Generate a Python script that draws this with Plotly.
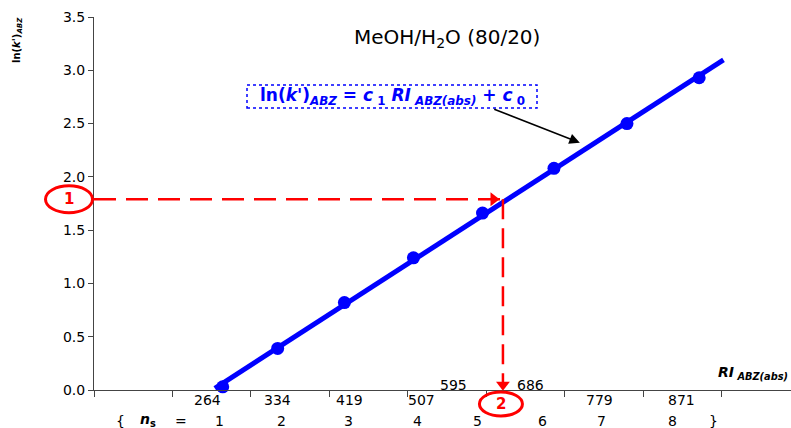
import numpy as np
import plotly.graph_objects as go

# ---- data ----
ri_values = [264, 334, 419, 507, 595, 686, 779, 871]
lnk_values = [0.03, 0.39, 0.82, 1.24, 1.66, 2.08, 2.50, 2.93]
ns_values = [1, 2, 3, 4, 5, 6, 7, 8]
ri_labels = ["264", "334", "419", "507", "595", "686", "779", "871"]
target_lnk = 1.79   # read-off value (1)
target_ri = 621     # resulting RI (2)
y_tickvals = [0.0, 0.5, 1.0, 1.5, 2.0, 2.5, 3.0, 3.5]

# ---- style / geometry ----
X0, X1 = 100, 988
Y0, Y1 = 0.0, 3.5
ML, MR, MT, MB = 94, 0, 17, 38
W, H = 791, 428
PW, PH = W - ML - MR, H - MT - MB
BLUE = "#0000FF"
RED = "#FF0000"
FONT = "DejaVu Sans"

ri_label_dx = [-15, 0, 5, 8, -29, -23, -27, -18]
ri_label_dy = [-10, -10, -10, -10, 5, 5, -10, -10]
ns_label_dx = [-3, 4, 4, 4, -5, -11, -25, -27]


def xp(v):
    return (v - X0) / (X1 - X0)


def yp(v):
    return (v - Y0) / (Y1 - Y0)


def px_x(p):
    return (p - ML) / PW


def px_y(p):
    return (H - MB - p) / PH


fig = go.Figure()

# regression line
c1, c0 = np.polyfit(ri_values, lnk_values, 1)
fit_x = np.array([min(ri_values) - 10, max(ri_values) + 31])
fig.add_trace(go.Scatter(x=fit_x, y=c1 * fit_x + c0, mode="lines",
                         line=dict(color=BLUE, width=5), cliponaxis=False,
                         hoverinfo="skip", showlegend=False))
fig.add_trace(go.Scatter(x=ri_values, y=lnk_values, mode="markers",
                         marker=dict(color=BLUE, size=13), cliponaxis=False,
                         showlegend=False))

# dashed read-off lines
fig.add_trace(go.Scatter(x=[X0, target_ri], y=[target_lnk, target_lnk], mode="lines",
                         line=dict(color=RED, width=2.5, dash="22px,10px"),
                         cliponaxis=False, showlegend=False, hoverinfo="skip"))
fig.add_trace(go.Scatter(x=[target_ri, target_ri], y=[target_lnk, 0.06], mode="lines",
                         line=dict(color=RED, width=2.5, dash="20px,9px"),
                         cliponaxis=False, showlegend=False, hoverinfo="skip"))
fig.add_trace(go.Scatter(x=[target_ri - 12], y=[target_lnk], mode="markers",
                         marker=dict(symbol="triangle-right", color=RED, size=12),
                         cliponaxis=False, showlegend=False, hoverinfo="skip"))
fig.add_trace(go.Scatter(x=[target_ri], y=[0.05], mode="markers",
                         marker=dict(symbol="triangle-down", color=RED, size=12),
                         cliponaxis=False, showlegend=False, hoverinfo="skip"))

shapes = []
annotations = []


def ann(**kw):
    kw.setdefault("showarrow", False)
    kw.setdefault("xanchor", "center")
    kw.setdefault("yanchor", "middle")
    annotations.append(kw)


# circle 1
cx1, cy1 = -25 / PW, yp(target_lnk)
shapes.append(dict(type="circle", xref="paper", yref="paper",
                   x0=cx1 - 23.5 / PW, x1=cx1 + 23.5 / PW,
                   y0=cy1 - 13.5 / PH, y1=cy1 + 13.5 / PH,
                   line=dict(color=RED, width=3)))
ann(xref="paper", yref="paper", x=cx1, y=cy1, text="<b>1</b>",
    font=dict(family=FONT, size=15, color=RED))
# circle 2
cx2, cy2 = xp(target_ri) - 2 / PW, -14 / PH
shapes.append(dict(type="circle", xref="paper", yref="paper",
                   x0=cx2 - 21.5 / PW, x1=cx2 + 21.5 / PW,
                   y0=cy2 - 12 / PH, y1=cy2 + 12 / PH,
                   line=dict(color=RED, width=3)))
ann(xref="paper", yref="paper", x=cx2, y=cy2, text="<b>2</b>",
    font=dict(family=FONT, size=15, color=RED))

# equation box (dotted)
shapes.append(dict(type="rect", xref="paper", yref="paper",
                   x0=px_x(247), x1=px_x(537), y0=px_y(108), y1=px_y(85),
                   line=dict(color=BLUE, width=1.5, dash="dot")))
ann(xref="paper", yref="paper", x=px_x(392), y=px_y(96),
    text="<b>ln(<i>k'</i>)<sub><i>ABZ</i></sub> = <i>c</i><sub> 1</sub> <i>RI</i><sub><i> ABZ(abs)</i></sub> + <i>c</i><sub> 0</sub></b>",
    font=dict(family=FONT, size=17, color=BLUE))
# arrow from box to line
annotations.append(dict(x=719, y=2.32, ax=608, ay=2.64, xref="x", yref="y",
                        axref="x", ayref="y", text="", showarrow=True,
                        arrowhead=2, arrowsize=1.4, arrowwidth=1.5, arrowcolor="black"))

# title text
ann(x=550, y=3.30, xref="x", yref="y", text="MeOH/H<sub>2</sub>O (80/20)",
    font=dict(family=FONT, size=20, color="black"))

# y-axis label
ann(xref="paper", yref="paper", x=px_x(17), y=px_y(40),
    text="<b>ln(<i>k'</i>)<sub><i>ABZ</i></sub></b>", textangle=-90,
    font=dict(family=FONT, size=10, color="black"))
# x-axis label
ann(xref="paper", yref="paper", x=px_x(753), y=px_y(373),
    text="<b><i>RI</i></b><sub><b><i> ABZ(abs)</i></b></sub>",
    font=dict(family=FONT, size=14, color="black"))

# RI value labels and n_s labels
for ri, lab, dx, dy in zip(ri_values, ri_labels, ri_label_dx, ri_label_dy):
    ann(x=ri, y=0, xref="x", yref="y", text=lab, xshift=dx, yshift=dy,
        font=dict(family=FONT, size=14, color="black"))
for ri, n, dx in zip(ri_values, ns_values, ns_label_dx):
    ann(x=ri, y=0, xref="x", yref="y", text=str(n), xshift=dx, yshift=-31,
        font=dict(family=FONT, size=14, color="black"))
ann(xref="paper", yref="y", x=px_x(120), y=0, yshift=-31, text="{",
    font=dict(family=FONT, size=14, color="black"))
ann(xref="paper", yref="y", x=px_x(148), y=0, yshift=-30,
    text="<b><i>n</i></b><sub><b>s</b></sub>",
    font=dict(family=FONT, size=14, color="black"))
ann(xref="paper", yref="y", x=px_x(181), y=0, yshift=-31, text="=",
    font=dict(family=FONT, size=14, color="black"))
ann(xref="paper", yref="y", x=px_x(713), y=0, yshift=-31, text="}",
    font=dict(family=FONT, size=14, color="black"))

fig.update_layout(
    width=W, height=H,
    margin=dict(l=ML, r=MR, t=MT, b=MB),
    plot_bgcolor="white", paper_bgcolor="white",
    showlegend=False,
    shapes=shapes, annotations=annotations,
    xaxis=dict(range=[X0, X1], showgrid=False, zeroline=False, showline=True,
               linecolor="#444444", linewidth=1, ticks="outside", ticklen=6,
               tickcolor="#444444", tickvals=list(range(100, 1001, 100)),
               showticklabels=False),
    yaxis=dict(range=[Y0, Y1], showgrid=False, zeroline=False, showline=True,
               linecolor="#444444", linewidth=1, ticks="outside", ticklen=5,
               tickcolor="#444444", tickvals=y_tickvals, tickformat=".1f",
               tickfont=dict(family=FONT, size=14, color="black")),
)

fig.write_html("out.html")
